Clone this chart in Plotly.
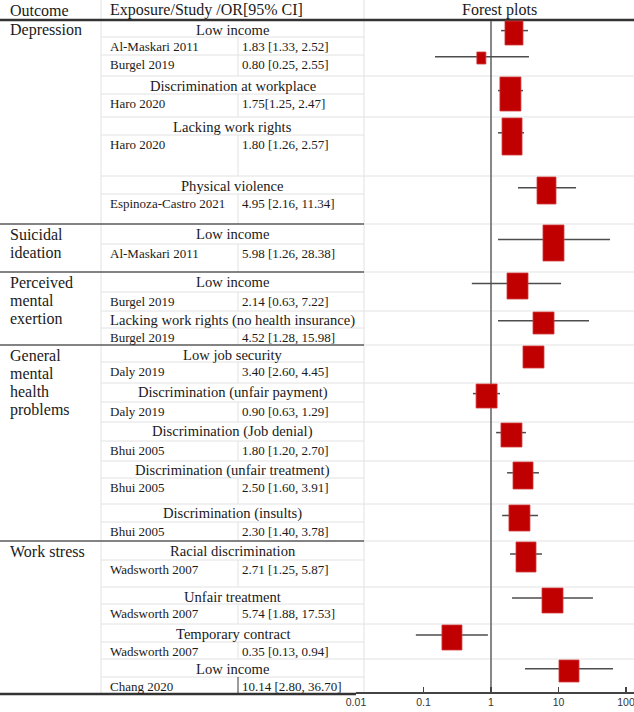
import plotly.graph_objects as go

W, H = 634, 712

# ---------------- data ----------------
outcome_lines = [
    ["Depression"],
    ["Suicidal", "ideation"],
    ["Perceived", "mental", "exertion"],
    ["General", "mental", "health", "problems"],
    ["Work stress"],
]

exposure_labels = [
    "Low income", "Discrimination at workplace", "Lacking work rights", "Physical violence",
    "Low income",
    "Low income", "Lacking work rights (no health insurance)",
    "Low job security", "Discrimination (unfair payment)", "Discrimination (Job denial)",
    "Discrimination (unfair treatment)", "Discrimination (insults)",
    "Racial discrimination", "Unfair treatment", "Temporary contract", "Low income",
]
exposure_outcome = [0, 0, 0, 0, 1, 2, 2, 3, 3, 3, 3, 3, 4, 4, 4, 4]

study_names = [
    "Al-Maskari 2011", "Burgel 2019", "Haro 2020", "Haro 2020", "Espinoza-Castro 2021",
    "Al-Maskari 2011", "Burgel 2019", "Burgel 2019", "Daly 2019", "Daly 2019",
    "Bhui 2005", "Bhui 2005", "Bhui 2005", "Wadsworth 2007", "Wadsworth 2007",
    "Wadsworth 2007", "Chang 2020",
]
study_exposure = [0, 0, 1, 2, 3, 4, 5, 6, 7, 8, 9, 10, 11, 12, 13, 14, 15]
or_labels = [
    "1.83 [1.33, 2.52]", "0.80 [0.25, 2.55]", "1.75[1.25, 2.47]", "1.80 [1.26, 2.57]",
    "4.95 [2.16, 11.34]", "5.98 [1.26, 28.38]", "2.14 [0.63, 7.22]", "4.52 [1.28, 15.98]",
    "3.40 [2.60, 4.45]", "0.90 [0.63, 1.29]", "1.80 [1.20, 2.70]", "2.50 [1.60, 3.91]",
    "2.30 [1.40, 3.78]", "2.71 [1.25, 5.87]", "5.74 [1.88, 17.53]", "0.35 [0.13, 0.94]",
    "10.14 [2.80, 36.70]",
]
# positions of the marks as drawn in the forest panel (read against its axis)
plot_or = [2.19, 0.72, 1.94, 2.05, 6.64, 8.43, 2.47, 6.0, 4.26, 0.86, 2.01, 2.98, 2.64, 3.3, 8.15, 0.264, 14.3]
plot_lo = [1.41, 0.148, 1.27, 1.27, 2.51, 1.27, 0.52, 1.27, 3.4, 0.54, 1.19, 1.73, 1.46, 1.91, 2.05, 0.077, 3.19]
plot_hi = [3.53, 3.65, 2.98, 3.08, 18.2, 57.9, 10.9, 28.3, 5.2, 1.36, 3.3, 5.14, 4.97, 5.7, 32.4, 0.90, 64.2]
tick_vals = [0.01, 0.1, 1, 10, 100]
tick_text = ["0.01", "0.1", "1", "10", "100"]

# ---------------- layout / style ----------------
exposure_row_h = [17, 18, 18, 18, 20, 20, 17, 17, 19, 19, 17, 18, 19, 17, 18, 18]
study_row_h = [18, 21, 23, 41, 30, 28, 19, 17, 21, 20, 20, 26, 19, 27, 20, 17, 18]
box_w_px = [18, 9, 21, 20, 19, 21, 21, 21, 21, 21, 21, 20, 21, 20, 21, 20, 20]
box_h_px = [24, 12, 34, 37, 27, 36, 26, 22, 22, 24, 24, 27, 26, 30, 25, 25, 22]

HEADER_H = 20
X_COL1 = 101      # outcome | exposure
X_COL2 = 238      # study | OR
X_COL3 = 364      # table | forest
X_AXIS0 = 356     # forest axis start
AXIS_Y = 692
LOG_R0 = -2.0
PXD = 67.5        # pixels per decade
LOG_R1 = LOG_R0 + (W - X_AXIS0) / PXD

SERIF = "Liberation Serif, Times New Roman, serif"
TXT = "#1a1a1a"
LIGHT = "#e2e2e2"
DARK = "#5a5a5a"


def px(x):
    return x / W


# build rows
rows = []
sections = []
block_top = {}
study_rows = {}
y = HEADER_H
for e, lab in enumerate(exposure_labels):
    if e == 0 or exposure_outcome[e] != exposure_outcome[e - 1]:
        sections.append((exposure_outcome[e], y))
    top = y
    y += exposure_row_h[e]
    rows.append(("exp", e, top, y))
    block_top[e] = top
    for s in [i for i, ex in enumerate(study_exposure) if ex == e]:
        t = y
        y += study_row_h[s]
        rows.append(("study", s, t, y))
        study_rows[s] = (t, y)
TABLE_BOTTOM = y

shapes = []
annotations = []


def hline(yv, x0, x1, color, w):
    shapes.append(dict(type="line", xref="paper", yref="y", x0=px(x0), x1=px(x1),
                       y0=yv, y1=yv, line=dict(color=color, width=w), layer="below"))


def vline(xv, y0, y1, color, w):
    shapes.append(dict(type="line", xref="paper", yref="y", x0=px(xv), x1=px(xv),
                       y0=y0, y1=y1, line=dict(color=color, width=w), layer="below"))


# vertical separators
vline(X_COL1, 0, TABLE_BOTTOM, LIGHT, 1)
vline(X_COL3, 0, AXIS_Y, LIGHT, 1)

section_tops = set(t for _, t in sections)
for kind, idx, top, bot in rows:
    if kind == "study":
        last = bot == TABLE_BOTTOM
        vline(X_COL2, top, bot, DARK if last else LIGHT, 1.2 if last else 1)
    if bot != TABLE_BOTTOM and bot not in section_tops:
        hline(bot, X_COL1, X_COL3, LIGHT, 1)

# forest column block lines
for e, t in block_top.items():
    if t != HEADER_H:
        hline(t, X_COL3, W, LIGHT, 1)

# section lines
for o, t in sections:
    if t != HEADER_H:
        hline(t, 0, X_COL3, DARK, 1.5)

hline(HEADER_H, 0, W, "#333333", 2.5)
hline(TABLE_BOTTOM - 1, 0, X_AXIS0, "#333333", 2.5)

# ---------------- text ----------------
def ann(text, x, yv, size, xanchor="left", color=TXT, family=SERIF):
    annotations.append(dict(text=text, xref="paper", yref="y", x=px(x), y=yv,
                            xanchor=xanchor, yanchor="middle", showarrow=False,
                            font=dict(family=family, size=size, color=color)))


ann("Outcome", 8, 10, 16)
ann("Exposure/Study /OR[95% CI]", 108, 10, 16)
ann("Forest plots", (X_COL3 + W) / 2, 10, 16, xanchor="center")

for o, t in sections:
    for k, line in enumerate(outcome_lines[o]):
        ann(line, 8, t + 10 + 18.3 * k, 16)

for kind, idx, top, bot in rows:
    if kind == "exp":
        ann(exposure_labels[idx], (X_COL1 + X_COL3) / 2, top + 9.5, 14.6, xanchor="center")
    else:
        ann(study_names[idx], 108, top + 9, 13)
        ann(or_labels[idx], 240, top + 9, 13)

# ---------------- forest marks ----------------
fig = go.Figure()

# reference line at OR = 1
fig.add_trace(go.Scatter(x=[1, 1], y=[HEADER_H + 1, AXIS_Y], mode="lines",
                         line=dict(color="#6a6a6a", width=1.6), hoverinfo="skip", showlegend=False))

box_tops = []
for s in range(len(study_names)):
    e = study_exposure[s]
    first = study_exposure.index(e) == s
    if first:
        box_tops.append(block_top[e] + 1)
    else:
        box_tops.append(study_rows[s][0] - 3)

wx, wy = [], []
for s in range(len(study_names)):
    yy = box_tops[s] + 0.4 * box_h_px[s]
    wx += [plot_lo[s], plot_hi[s], None]
    wy += [yy, yy, None]
fig.add_trace(go.Scatter(x=wx, y=wy, mode="lines", line=dict(color="#4d4d4d", width=1.5),
                         hoverinfo="skip", showlegend=False))

bx, by = [], []
for s in range(len(study_names)):
    hw = box_w_px[s] / 2 / PXD
    x0 = plot_or[s] * 10 ** (-hw)
    x1 = plot_or[s] * 10 ** hw
    t = box_tops[s]
    b = t + box_h_px[s]
    bx += [x0, x1, x1, x0, x0, None]
    by += [t, t, b, b, t, None]
fig.add_trace(go.Scatter(x=bx, y=by, mode="lines", fill="toself", fillcolor="#C00000",
                         line=dict(color="#D23A3A", width=0.8), hoverinfo="skip", showlegend=False))

fig.update_layout(
    width=W, height=H,
    margin=dict(l=0, r=0, t=0, b=0, pad=0, autoexpand=False),
    paper_bgcolor="white", plot_bgcolor="rgba(0,0,0,0)",
    shapes=shapes, annotations=annotations,
    showlegend=False,
    xaxis=dict(type="log", domain=[px(X_AXIS0), 1], range=[LOG_R0, LOG_R1],
               anchor="free", position=(H - AXIS_Y) / H, automargin=False,
               showgrid=False, zeroline=False, showline=True, linecolor="#444444", linewidth=1.5,
               ticks="inside", ticklen=5, tickwidth=1.2, tickcolor="#444444",
               tickvals=tick_vals, ticktext=tick_text, ticklabeloverflow="allow",
               tickfont=dict(family="Liberation Sans Narrow, Liberation Sans, Arial, sans-serif",
                             size=10.5, color="#333333"),
               fixedrange=True),
    yaxis=dict(range=[H, 0], domain=[0, 1], visible=False, fixedrange=True, automargin=False),
)

fig.write_html(
    "out.html",
    config={"displayModeBar": False, "staticPlot": True},
    post_script="document.body.style.margin='0';document.body.style.overflow='hidden';",
)
